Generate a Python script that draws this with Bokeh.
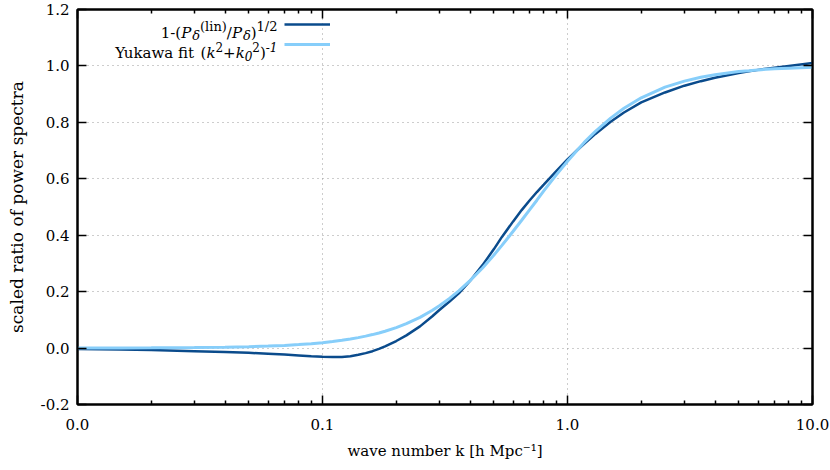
from bokeh.plotting import figure
from bokeh.models import (FixedTicker, PrintfTickFormatter, LinearAxis, LogAxis,
                          Legend, LegendItem, Label, CustomJSTickFormatter)
from bokeh.core.properties import value
from bokeh.embed import file_html
from bokeh.resources import INLINE

FONT = "DejaVu Serif"

# ---- data ----
k = [0.01, 0.015, 0.02, 0.03, 0.04, 0.05, 0.06, 0.07, 0.08, 0.09, 0.1, 0.11, 0.12,
     0.13, 0.14, 0.15, 0.16, 0.17, 0.18, 0.2, 0.22, 0.25, 0.28, 0.3, 0.33, 0.36, 0.4,
     0.45, 0.5, 0.54, 0.6, 0.65, 0.7, 0.75, 0.8, 0.9, 1.0, 1.1, 1.17, 1.3, 1.5, 1.7,
     2.0, 2.5, 3.0, 3.5, 4.0, 5.0, 5.5, 6.0, 7.0, 8.0, 10.0]
ratio = [-0.003, -0.005, -0.007, -0.011, -0.014, -0.017, -0.020, -0.023, -0.026, -0.029,
         -0.031, -0.032, -0.032, -0.029, -0.024, -0.018, -0.011, -0.003, 0.006, 0.025,
         0.045, 0.077, 0.112, 0.135, 0.165, 0.194, 0.238, 0.294, 0.350, 0.394, 0.449,
         0.489, 0.523, 0.553, 0.579, 0.627, 0.669, 0.703, 0.724, 0.759, 0.802, 0.835,
         0.871, 0.906, 0.930, 0.946, 0.958, 0.975, 0.981, 0.986, 0.994, 1.000, 1.010]
yukawa = [0.0002, 0.0004, 0.0008, 0.0018, 0.0031, 0.0049, 0.0070, 0.0095, 0.0124, 0.0156,
          0.0192, 0.0232, 0.0275, 0.0321, 0.0370, 0.0423, 0.0478, 0.0536, 0.0597, 0.0727,
          0.0867, 0.109, 0.133, 0.150, 0.176, 0.203, 0.239, 0.284, 0.329, 0.364, 0.414,
          0.453, 0.490, 0.524, 0.557, 0.614, 0.662, 0.703, 0.729, 0.768, 0.815, 0.850,
          0.887, 0.925, 0.946, 0.960, 0.969, 0.980, 0.983, 0.986, 0.990, 0.992, 0.995]

x_major = [0.01, 0.1, 1, 10]
x_minor = [m * d for d in (0.01, 0.1, 1) for m in range(2, 10)]
x_grid = [0.1, 1]
y_major = [-0.2, 0.0, 0.2, 0.4, 0.6, 0.8, 1.0, 1.2]
y_grid = [0.0, 0.2, 0.4, 0.6, 0.8, 1.0]

x_title = "wave number k [h Mpc\u207b\u00b9]"
y_title = "scaled ratio of power spectra"

DARK = "#0A4B8C"
LIGHT = "#87CEFA"

p = figure(width=830, height=470, x_axis_type="log", x_range=(0.01, 10),
           y_range=(-0.2, 1.2), output_backend="svg", toolbar_location=None,
           min_border_left=77, min_border_right=18, min_border_top=9,
           min_border_bottom=66)
p.background_fill_color = "white"
p.border_fill_color = "white"
p.outline_line_color = "black"
p.outline_line_width = 2

r1 = p.line(k, ratio, line_color=DARK, line_width=2.5)
r2 = p.line(k, yukawa, line_color=LIGHT, line_width=3)

xt = FixedTicker(ticks=x_major, minor_ticks=x_minor)
yt = FixedTicker(ticks=y_major)


def style_axis(ax, labels=True):
    ax.axis_line_width = 2
    ax.axis_line_color = "black"
    ax.major_tick_in = 9
    ax.major_tick_out = 0
    ax.major_tick_line_width = 1.5
    ax.minor_tick_in = 4
    ax.minor_tick_out = 0
    ax.minor_tick_line_width = 1.5
    if labels:
        ax.major_label_text_font = FONT
        ax.major_label_text_font_size = "15px"
        ax.major_label_text_color = "black"
    else:
        ax.major_label_text_font_size = "0px"
        ax.major_label_standoff = 0


xa = p.xaxis[0]
xa.ticker = xt
xa.formatter = PrintfTickFormatter(format="%.1f")
style_axis(xa)
xa.major_label_standoff = 14
xa.axis_label = x_title
xa.axis_label_text_font = FONT
xa.axis_label_text_font_size = "15px"
xa.axis_label_text_font_style = "normal"
xa.axis_label_text_color = "black"
xa.axis_label_standoff = 9

ya = p.yaxis[0]
ya.ticker = yt
ya.formatter = PrintfTickFormatter(format="%.1f")
style_axis(ya)
ya.minor_tick_line_color = None
ya.major_label_standoff = 8
ya.axis_label = y_title
ya.axis_label_text_font = FONT
ya.axis_label_text_font_size = "17px"
ya.axis_label_text_font_style = "normal"
ya.axis_label_text_color = "black"
ya.axis_label_standoff = 11

top = LogAxis(ticker=FixedTicker(ticks=x_major, minor_ticks=x_minor),
              formatter=CustomJSTickFormatter(code="return ''"))
style_axis(top, labels=False)
p.add_layout(top, "above")

right = LinearAxis(ticker=FixedTicker(ticks=y_major),
                   formatter=CustomJSTickFormatter(code="return ''"))
style_axis(right, labels=False)
right.minor_tick_line_color = None
p.add_layout(right, "right")

p.xgrid.ticker = FixedTicker(ticks=x_grid)
p.ygrid.ticker = FixedTicker(ticks=y_grid)
for g in (p.xgrid, p.ygrid):
    g.grid_line_color = "#9a9a9a"
    g.grid_line_dash = "1 4"
    g.grid_line_width = 1

legend = Legend(items=[LegendItem(label=value(""), renderers=[r1]),
                       LegendItem(label=value(""), renderers=[r2])],
                location=(207, 350), orientation="vertical",
                glyph_width=46, glyph_height=20, label_width=0, label_height=20,
                label_standoff=0, padding=0, margin=0, spacing=0,
                border_line_color=None, background_fill_alpha=0,
                label_text_font_size="1px")
p.add_layout(legend)

# ---- legend texts with sub/superscripts, built from pieces ----
W = {' ': 318, '(': 390, ')': 390, '-': 338, '/': 337, '0': 636, '1': 636, '2': 636,
     '+': 838, 'Y': 668, 'u': 644, 'k': 603, 'a': 596, 'w': 856, 'f': 370, 'i': 320,
     't': 402, 'l': 320, 'n': 644, 'P': 733, 'h': 644, '\u03b4': 602}

MAIN, SCRIPT, SCRIPT1, SUP, SUB = 15, 12, 13, 6, -3


def piece_width(text, size):
    return sum(W.get(c, 600) for c in text) * size / 1000.0


def rich(pieces, x, y):
    widths = [piece_width(t, sz) for t, it, sz, dy in pieces]
    cx = x - sum(widths)
    for (t, it, sz, dy), w in zip(pieces, widths):
        p.add_layout(Label(x=cx, y=y + dy, x_units="screen", y_units="screen", text=t,
                           text_font=FONT, text_font_size=f"{sz}px",
                           text_font_style="italic" if it else "normal",
                           text_color="black", text_align="left",
                           text_baseline="alphabetic"))
        cx += w


leg1 = [("1-(", False, MAIN, 0), ("P", True, MAIN, 0), ("\u03b4", True, SCRIPT1, SUB),
        ("(lin)", False, SCRIPT1, SUP), ("/", False, MAIN, 0), ("P", True, MAIN, 0),
        ("\u03b4", True, SCRIPT1, SUB), (")", False, MAIN, 0), ("1/2", False, SCRIPT1, SUP)]
leg2 = [("Yukawa fit ", False, MAIN, 0), ("(", False, MAIN, 0), ("k", True, MAIN, 0),
        ("2", False, SCRIPT, SUP), ("+", False, MAIN, 0), ("k", True, MAIN, 0),
        ("0", True, SCRIPT, SUB), ("2", False, SCRIPT, SUP), (")", False, MAIN, 0),
        ("-1", True, SCRIPT, SUP)]

rich(leg1, 200, 372)
rich(leg2, 200, 352)

open("out.html", "w").write(file_html(p, INLINE))
